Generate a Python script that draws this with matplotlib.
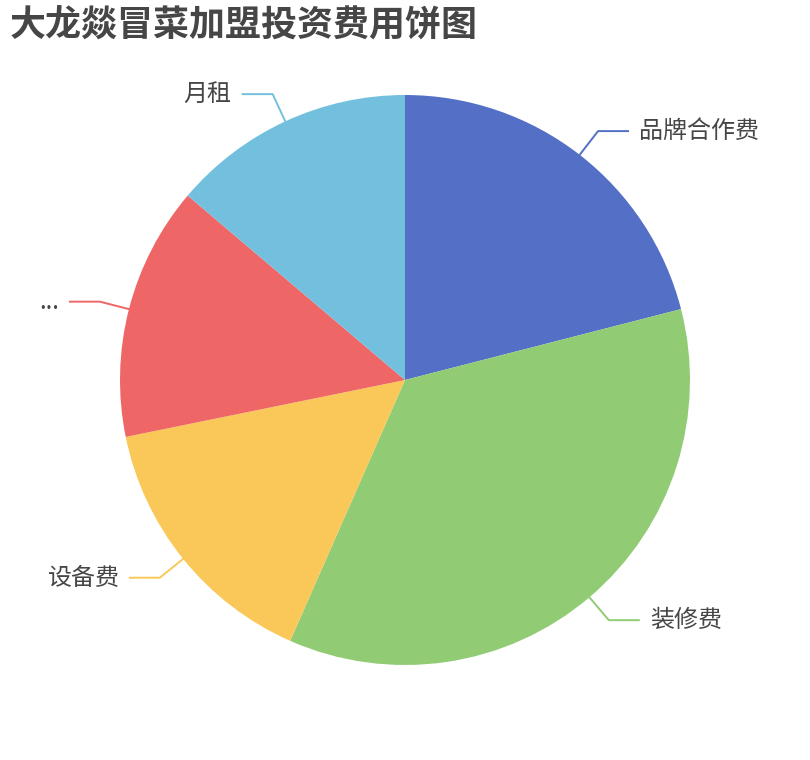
# 大龙燚冒菜加盟投资费用饼图
import numpy as np
import matplotlib
matplotlib.use('Agg')
import matplotlib.pyplot as plt

plt.rcParams['font.family'] = ['Noto Sans CJK SC', 'DejaVu Sans']

# data (shares)
labels = ['品牌合作费', '装修费', '设备费', '...', '月租']
values = [21.0, 35.6, 15.2, 14.4, 13.8]
colors = ['#5470c6', '#91cc75', '#fac858', '#ee6666', '#73c0de']

fig = plt.figure(figsize=(8.1, 7.6), dpi=100)
ax = fig.add_axes([0, 0, 1, 1])

# pie in pixel-like data units
cx, cy, r = 405, 380, 285
wedges, _ = ax.pie(values, colors=colors, startangle=90, counterclock=False,
                   center=(cx, cy), radius=r, frame=True,
                   wedgeprops=dict(linewidth=0))

# leader lines + labels
for w, lab, col in zip(wedges, labels, colors):
    mid = np.deg2rad((w.theta1 + w.theta2) / 2)
    ux, uy = np.cos(mid), np.sin(mid)
    p0 = (cx + r * ux, cy + r * uy)
    p1 = (cx + (r + 30) * ux, cy + (r + 30) * uy)
    side = 1 if ux >= 0 else -1
    p2 = (p1[0] + side * 30, p1[1])
    ax.plot([p0[0], p1[0], p2[0]], [p0[1], p1[1], p2[1]], color=col, lw=1.4)
    ax.text(p2[0] + side * 11, p2[1], lab, fontsize=17.3, color='#464646',
            ha='left' if side > 0 else 'right', va='center')

ax.set_xlim(0, 810)
ax.set_ylim(0, 760)
ax.set_aspect('equal')
ax.axis('off')

fig.text(10 / 810, 1 - 7 / 760, '大龙燚冒菜加盟投资费用饼图', fontsize=25.9,
         fontweight='bold', color='#464646', ha='left', va='top')

fig.savefig('out.png', dpi=100)
